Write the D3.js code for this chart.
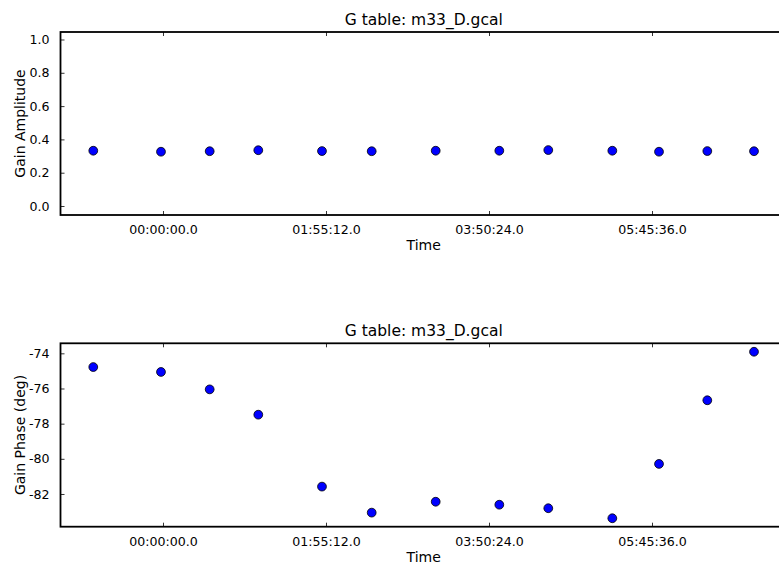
<!DOCTYPE html>
<html>
<head>
<meta charset="utf-8">
<script src="https://cdn.jsdelivr.net/npm/d3@7"></script>
<style>
  html, body { margin: 0; padding: 0; background: #fff; }
  svg { display: block; font-family: "DejaVu Sans", sans-serif; }
</style>
</head>
<body>
<svg id="chart" width="779" height="564"></svg>
<script>
// Time of each solution, seconds relative to 00:00:00.0
const times = [-2956, -85, 1980, 4041, 6742, 8850, 11564, 14261, 16338, 19053, 21033, 23081, 25061];
const amplitude = [0.332, 0.326, 0.329, 0.335, 0.330, 0.329, 0.332, 0.332, 0.336, 0.332, 0.326, 0.330, 0.329];
const phase = [-74.78, -75.06, -76.05, -77.49, -81.58, -83.06, -82.44, -82.61, -82.81, -83.38, -80.29, -76.67, -73.91];
const xTickValues = [0, 6912, 13824, 20736];
const xTickLabels = ["00:00:00.0", "01:55:12.0", "03:50:24.0", "05:45:36.0"];
const ampTickValues = [0.0, 0.2, 0.4, 0.6, 0.8, 1.0];
const ampTickLabels = ["0.0", "0.2", "0.4", "0.6", "0.8", "1.0"];
const phaseTickValues = [-82, -80, -78, -76, -74];
const phaseTickLabels = ["-82", "-80", "-78", "-76", "-74"];
const titleText = "G table: m33_D.gcal";

const svg = d3.select("#chart");
const left = 60.5, right = 787;
const xDomain = [-4346, 26460];

function panel(opts) {
  const { top, bottom, values, yDomain, yTicks, yLabels, ylabel } = opts;
  const g = svg.append("g");
  const x = d3.scaleLinear().domain(xDomain).range([left, right]);
  const y = d3.scaleLinear().domain(yDomain).range([bottom, top]);
  const tickLen = 4;
  const fs = 12.6;

  // axes with inward ticks
  const xb = d3.axisBottom(x).tickValues(xTickValues).tickSize(-tickLen)
    .tickFormat((d, i) => xTickLabels[i]).tickPadding(10);
  const xt = d3.axisTop(x).tickValues(xTickValues).tickSize(-tickLen).tickFormat("");
  const yl = d3.axisLeft(y).tickValues(yTicks).tickSize(-tickLen)
    .tickFormat((d, i) => yLabels[i]).tickPadding(11);
  const yr = d3.axisRight(y).tickValues(yTicks).tickSize(-tickLen).tickFormat("");

  [[xb, `translate(0,${bottom})`], [xt, `translate(0,${top})`],
   [yl, `translate(${left},0)`], [yr, `translate(${right},0)`]].forEach(([ax, tr]) => {
    const a = g.append("g").attr("transform", tr).call(ax);
    a.select(".domain").remove();
    a.selectAll(".tick line").attr("stroke", "#333").attr("stroke-width", 1);
    a.selectAll(".tick text").attr("fill", "#000").style("font-size", fs + "px")
      .style("font-family", "DejaVu Sans, sans-serif");
  });

  // frame
  g.append("rect").attr("x", left).attr("y", top)
    .attr("width", right - left).attr("height", bottom - top)
    .attr("fill", "none").attr("stroke", "#000").attr("stroke-width", 1.8);

  // points
  g.append("g").selectAll("circle").data(values).join("circle")
    .attr("cx", (d, i) => x(times[i]))
    .attr("cy", d => y(d))
    .attr("r", 4.4)
    .attr("fill", "#0000ff")
    .attr("stroke", "#000")
    .attr("stroke-width", 0.8);

  // title
  g.append("text").attr("x", (left + right) / 2).attr("y", top - 7)
    .attr("text-anchor", "middle").style("font-size", "15.5px").text(titleText);
  // x label
  g.append("text").attr("x", (left + right) / 2).attr("y", bottom + 35)
    .attr("text-anchor", "middle").style("font-size", "14px").text("Time");
  // y label
  g.append("text")
    .attr("transform", `translate(25,${(top + bottom) / 2}) rotate(-90)`)
    .attr("text-anchor", "middle").style("font-size", "14px").text(ylabel);
}

panel({ top: 32, bottom: 215, values: amplitude, yDomain: [-0.054, 1.045],
  yTicks: ampTickValues, yLabels: ampTickLabels, ylabel: "Gain Amplitude" });
panel({ top: 343.3, bottom: 526.7, values: phase, yDomain: [-83.86, -73.43],
  yTicks: phaseTickValues, yLabels: phaseTickLabels, ylabel: "Gain Phase (deg)" });
</script>
</body>
</html>
